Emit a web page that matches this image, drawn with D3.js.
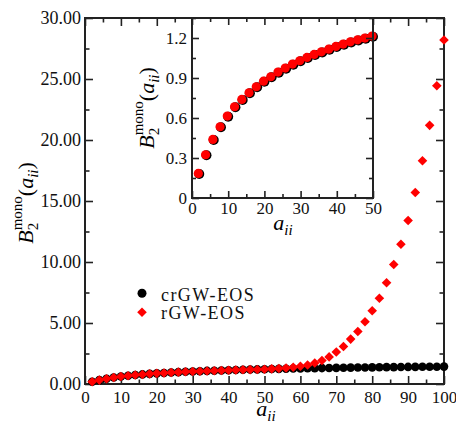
<!DOCTYPE html>
<html>
<head>
<meta charset="utf-8">
<script src="https://cdn.jsdelivr.net/npm/d3@7"></script>
<style>
body { margin: 0; background: #fff; }
svg, svg text { font-family: 'Liberation Serif', 'DejaVu Serif', 'Noto Serif', 'Times New Roman', Times, serif; }
</style>
</head>
<body>
<svg id="grafico" width="456" height="421"></svg>
<script>
// a_ii values (x) shared by both series
var aii = [2, 4, 6, 8, 10, 12, 14, 16, 18, 20, 22, 24, 26, 28, 30, 32, 34, 36, 38, 40,
    42, 44, 46, 48, 50, 52, 54, 56, 58, 60, 62, 64, 66, 68, 70, 72, 74, 76, 78, 80,
    82, 84, 86, 88, 90, 92, 94, 96, 98, 100];

// crGW-EOS (black circles)
var crGW = [0.18, 0.32, 0.435, 0.53, 0.61, 0.68, 0.735, 0.785, 0.83, 0.872, 0.905, 0.94,
    0.97, 1.0, 1.025, 1.05, 1.072, 1.092, 1.112, 1.132, 1.15, 1.167, 1.182, 1.195, 1.21,
    1.225, 1.24, 1.25, 1.265, 1.275, 1.285, 1.295, 1.305, 1.315, 1.325, 1.33, 1.34, 1.35,
    1.355, 1.365, 1.37, 1.38, 1.385, 1.39, 1.4, 1.405, 1.41, 1.415, 1.42, 1.425];

// rGW-EOS (red diamonds)
var rGW = [0.18, 0.32, 0.435, 0.53, 0.61, 0.68, 0.735, 0.785, 0.83, 0.872, 0.905, 0.94,
    0.97, 1.0, 1.025, 1.05, 1.072, 1.092, 1.112, 1.132, 1.15, 1.167, 1.182, 1.195, 1.21,
    1.24, 1.27, 1.31, 1.37, 1.45, 1.56, 1.72, 1.93, 2.22, 2.62, 3.08, 3.68, 4.3,
    5.1, 6.0, 7.03, 8.3, 9.8, 11.45, 13.4, 15.7, 18.3, 21.2, 24.45, 28.2];

var mainXMajor = [0, 10, 20, 30, 40, 50, 60, 70, 80, 90, 100];
var mainXMinor = [5, 15, 25, 35, 45, 55, 65, 75, 85, 95];
var mainYMajor = [0, 5, 10, 15, 20, 25, 30];
var mainYMinor = [2.5, 7.5, 12.5, 17.5, 22.5, 27.5];

var insetXMajor = [0, 10, 20, 30, 40, 50];
var insetXMinor = [5, 15, 25, 35, 45];
var insetYMajor = [0, 0.3, 0.6, 0.9, 1.2];
var insetYMinor = [0.15, 0.45, 0.75, 1.05, 1.35];

var legendNames = ["crGW-EOS", "rGW-EOS"];

var fonte = "'Liberation Serif', 'DejaVu Serif', 'Noto Serif', 'Times New Roman', Times, serif";
var svg = d3.select("#grafico").attr("font-family", fonte);
var cor = "#222";

var dados = aii.map(function(a, i) { return { a: a, c: crGW[i], r: rGW[i] }; });

// scales
var x = d3.scaleLinear().domain([0, 100]).range([85, 444]);
var y = d3.scaleLinear().domain([0, 30]).range([384, 18]);
var xi = d3.scaleLinear().domain([0, 50]).range([192, 373]);
var yi = d3.scaleLinear().domain([0, 1.35]).range([198, 18]);

function eixos(g, sx, sy, o) {
    var x0 = sx.range()[0], x1 = sx.range()[1];
    var y0 = sy.range()[0], y1 = sy.range()[1];

    function desenha(ax, tr, valores, tam, fmt, pad, tamFonte) {
        var a = g.append("g").attr("transform", tr)
            .call(ax.tickValues(valores).tickSize(-tam).tickSizeOuter(0)
                .tickPadding(pad || 3).tickFormat(fmt || ""));
        a.attr("font-family", fonte).attr("font-size", tamFonte || o.fonte);
        a.select(".domain").remove();
        a.selectAll("line").attr("stroke", cor).attr("stroke-width", 1.6);
        a.selectAll("text").attr("fill", "#111");
        return a;
    }

    // bottom + top
    desenha(d3.axisBottom(sx), "translate(0," + y0 + ")", o.xMinor, o.menor);
    desenha(d3.axisBottom(sx), "translate(0," + y0 + ")", o.xMajor, o.maior, o.xFmt, o.xPad, o.fonteX);
    desenha(d3.axisTop(sx), "translate(0," + y1 + ")", o.xMinor, o.menor);
    desenha(d3.axisTop(sx), "translate(0," + y1 + ")", o.xMajor, o.maior);
    // left + right
    desenha(d3.axisLeft(sy), "translate(" + x0 + ",0)", o.yMinor, o.menor);
    desenha(d3.axisLeft(sy), "translate(" + x0 + ",0)", o.yMajor, o.maior, o.yFmt, o.yPad);
    desenha(d3.axisRight(sy), "translate(" + x1 + ",0)", o.yMinor, o.menor);
    desenha(d3.axisRight(sy), "translate(" + x1 + ",0)", o.yMajor, o.maior);

    g.append("rect")
        .attr("x", x0).attr("y", y1)
        .attr("width", x1 - x0).attr("height", y0 - y1)
        .attr("fill", "none").attr("stroke", cor).attr("stroke-width", 2);
}

function tituloB(g, tr) {
    g.append("text")
        .attr("transform", tr)
        .attr("text-anchor", "middle")
        .attr("font-size", 22)
        .html('<tspan font-style="italic">B</tspan><tspan font-size="15" dy="5">2</tspan>' +
            '<tspan font-size="15" dx="-7.5" dy="-16">mono</tspan>' +
            '<tspan dy="11">(</tspan><tspan font-style="italic">a</tspan>' +
            '<tspan font-style="italic" font-size="15" dy="5">ii</tspan><tspan dy="-5">)</tspan>');
}

function tituloA(g, px, py) {
    g.append("text")
        .attr("x", px).attr("y", py)
        .attr("text-anchor", "middle")
        .attr("font-size", 22)
        .html('<tspan font-style="italic">a</tspan><tspan font-style="italic" font-size="15" dy="5">ii</tspan>');
}

// ---- main plot ----
var principal = svg.append("g");
eixos(principal, x, y, {
    xMajor: mainXMajor, xMinor: mainXMinor, yMajor: mainYMajor, yMinor: mainYMinor,
    maior: 8, menor: 4.5, fonte: 18, fonteX: 17, xPad: 7, yPad: 4,
    xFmt: d3.format("d"), yFmt: d3.format(".2f")
});

var diamante = d3.symbol().type(d3.symbolSquare).size(46);

principal.append("g").selectAll("circle")
    .data(dados).enter().append("circle")
    .attr("cx", function(d) { return x(d.a); })
    .attr("cy", function(d) { return y(d.c); })
    .attr("r", 4.3)
    .attr("fill", "#000");

principal.append("g").selectAll("path")
    .data(dados).enter().append("path")
    .attr("d", diamante)
    .attr("transform", function(d) { return "translate(" + x(d.a) + "," + y(d.r) + ") rotate(45)"; })
    .attr("fill", "#ff0000");

tituloA(principal, 266, 416);
tituloB(principal, "translate(33,203) rotate(-90)");

// legend
var legenda = principal.append("g");
legenda.append("circle").attr("cx", 142).attr("cy", 293.3).attr("r", 4.5).attr("fill", "#000");
legenda.append("path").attr("d", diamante)
    .attr("transform", "translate(142,312.3) rotate(45)").attr("fill", "#ff0000");
legenda.selectAll("text").data(legendNames).enter().append("text")
    .attr("x", 161)
    .attr("y", function(d, i) { return 300.5 + i * 18; })
    .attr("font-size", 18)
    .attr("letter-spacing", 1.4)
    .attr("fill", "#111")
    .text(function(d) { return d; });

// ---- inset ----
var inset = svg.append("g");
inset.append("rect")
    .attr("x", xi.range()[0]).attr("y", yi.range()[1])
    .attr("width", xi.range()[1] - xi.range()[0])
    .attr("height", yi.range()[0] - yi.range()[1])
    .attr("fill", "#fff");

var dadosInset = dados.filter(function(d) { return d.a <= 50; });

inset.append("g").selectAll("circle")
    .data(dadosInset).enter().append("circle")
    .attr("cx", function(d) { return xi(d.a); })
    .attr("cy", function(d) { return yi(d.c); })
    .attr("r", 5)
    .attr("fill", "#000");

inset.append("g").selectAll("circle")
    .data(dadosInset).enter().append("circle")
    .attr("cx", function(d) { return xi(d.a) - 0.9; })
    .attr("cy", function(d) { return yi(d.r) - 0.6; })
    .attr("r", 4.6)
    .attr("fill", "#ff0000");

eixos(inset, xi, yi, {
    xMajor: insetXMajor, xMinor: insetXMinor, yMajor: insetYMajor, yMinor: insetYMinor,
    maior: 7, menor: 4, fonte: 17, xPad: 4, yPad: 5,
    xFmt: d3.format("d"), yFmt: function(v) { return v === 0 ? "0" : d3.format(".1f")(v); }
});

tituloA(inset, 283, 230);
tituloB(inset, "translate(154,108) rotate(-90)");
</script>
</body>
</html>
